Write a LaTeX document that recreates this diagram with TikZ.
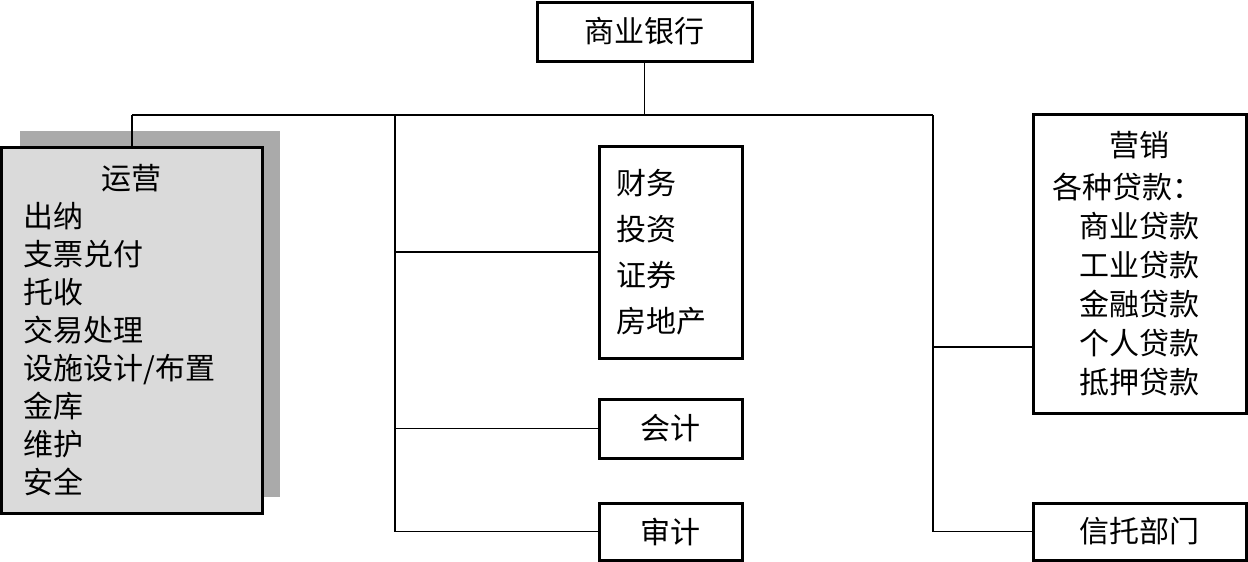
\documentclass[tikz,border=0pt]{standalone}
\usepackage{fontspec}
\newfontfamily\cjk{Noto Sans CJK SC}
\definecolor{shadowgray}{RGB}{170,170,170}
\definecolor{boxgray}{RGB}{218,218,218}
\begin{document}
\begin{tikzpicture}[x=1pt,y=-1pt,
  box/.style={draw, line width=3pt, inner sep=0pt, font=\cjk\fontsize{30}{38}\selectfont},
  link/.style={line width=1.3pt}]
\useasboundingbox (0,0) rectangle (1248,562);
% top
\node[box, minimum width=215, minimum height=59] (bank) at (644.5,31.5) {商业银行};
% left shadow + box
\fill[shadowgray] (20,131) rectangle (280,497);
\node[box, fill=boxgray, minimum width=260.5, minimum height=366, text width=216, align=left] (ops) at (131.75,330)
  {\makebox[216pt]{运营}\\出纳\\支票兑付\\托收\\交易处理\\设施设计/布置\\金库\\维护\\安全};
% middle
\node[box, font=\cjk\fontsize{30}{46}\selectfont, minimum width=143, minimum height=212, text width=109, align=left] (fin) at (670.5,252)
  {财务\\投资\\证券\\房地产};
\node[box, minimum width=143, minimum height=59] (acct) at (670.5,428.5) {会计};
\node[box, minimum width=143, minimum height=57] (audit) at (670.5,531.5) {审计};
% right
\node[box, font=\cjk\fontsize{30}{39}\selectfont, minimum width=213.5, minimum height=299, text width=175.5, align=left] (mkt) at (1139.75,263.5)
  {\makebox[175.5pt]{营销}\\[3pt]各种贷款：\\\hspace*{27pt}商业贷款\\\hspace*{27pt}工业贷款\\\hspace*{27pt}金融贷款\\\hspace*{27pt}个人贷款\\\hspace*{27pt}抵押贷款};
\node[box, minimum width=213.5, minimum height=57] (trust) at (1139.75,531.5) {信托部门};
% connectors
\coordinate (hub) at (644.5,115);
\coordinate (hl) at (132,115);
\coordinate (hr) at (933,115);
\coordinate (m1) at (395,115);
\coordinate (rb) at (933,347);
\draw[link] (bank.south) -- (hub);
\draw[link] (hl) -- (hr);
\draw[link] (hl) -- (hl |- ops.north);
\draw[link] (m1) |- (audit.west);
\draw[link] (m1 |- fin.west) -- (fin.west);
\draw[link] (m1 |- acct.west) -- (acct.west);
\draw[link] (hr) |- (trust.west);
\draw[link] (rb) -- (rb -| mkt.west);
\end{tikzpicture}
\end{document}
